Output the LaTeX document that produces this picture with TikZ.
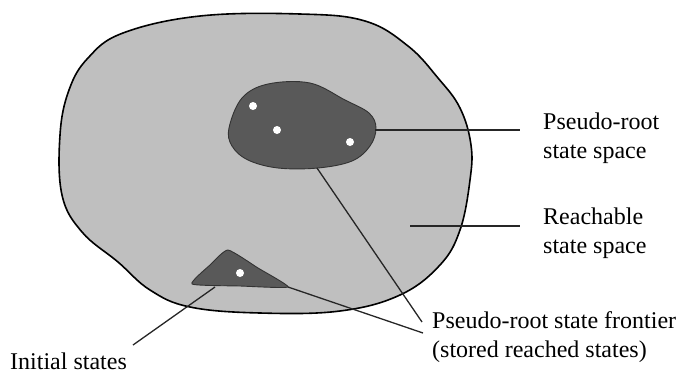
\documentclass[tikz,border=0pt]{standalone}
\usepackage{fontspec}
\setmainfont{Liberation Serif}
\begin{document}
\begin{tikzpicture}[x=1pt,y=-1pt,
  outerblob/.style={draw=black,line width=1.6pt,fill=black!25},
  innerblob/.style={draw=black!80,line width=0.9pt,fill=black!65},
  whitedot/.style={circle,fill=white,inner sep=0pt,minimum size=8pt},
  lbl/.style={anchor=west,align=left,font=\fontsize{24}{29.5}\selectfont,inner sep=0pt},
  conn/.style={draw=black!85,line width=1.3pt}]
\useasboundingbox (0,0) rectangle (694,376);
% reachable state space
\draw[outerblob] plot[smooth cycle,tension=0.65] coordinates {
 (190,307) (260,313) (340,311) (400,295) (440,265) (460,230) (470,180)
 (471,145) (460,108) (438,78) (408,46) (365,21) (300,14) (200,16)
 (123,33) (88,58) (69,90) (60,135) (62,195) (82,232) (118,262) (150,290)};
% pseudo-root state space
\draw[innerblob] plot[smooth cycle,tension=0.6] coordinates {
 (229,128) (242,98) (268,84) (310,83) (345,100) (369,113) (376,128)
 (370,146) (352,161) (318,168) (278,168) (248,160) (232,146)};
% initial states region
\draw[innerblob] plot[smooth cycle,tension=0.3] coordinates {
 (228,250) (258,268) (288,287) (240,286) (192,284) (210,265)};
% states
\node[whitedot] (s1) at (253,106) {};
\node[whitedot] (s2) at (277,130) {};
\node[whitedot] (s3) at (350,142) {};
\node[whitedot] (s4) at (240,273) {};
% labels
\node[lbl] (prss) at (543,138) {Pseudo-root\\state space};
\node[lbl] (rss) at (543,233) {Reachable\\state space};
\node[lbl] (prsf) at (432,337) {Pseudo-root state frontier\\(stored reached states)};
\node[lbl] (init) at (10,361) {Initial states};
% connector end points
\coordinate (a1) at (375,130);
\coordinate (a2) at (520,130);
\coordinate (b1) at (410,226);
\coordinate (b2) at (520,226);
\coordinate (c1) at (317,168);
\coordinate (c2) at (422,322);
\coordinate (d1) at (288,287);
\coordinate (d2) at (423,333);
\coordinate (e1) at (215,287);
\coordinate (e2) at (133,345);
\draw[conn] (a1) -- (a2);
\draw[conn] (b1) -- (b2);
\draw[conn] (c1) -- (c2);
\draw[conn] (d1) -- (d2);
\draw[conn] (e1) -- (e2);
\end{tikzpicture}
\end{document}
